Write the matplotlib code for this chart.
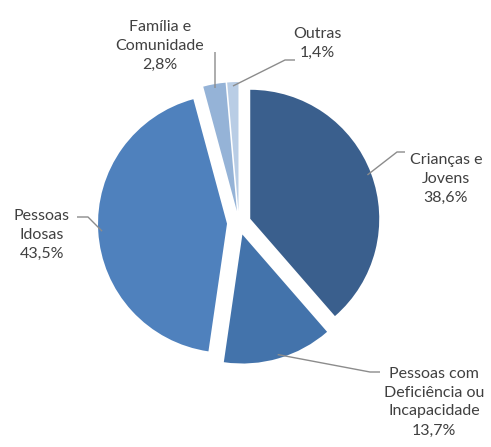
import numpy as np
import matplotlib
matplotlib.use("Agg")
import matplotlib.pyplot as plt

categories = ["Crianças e\nJovens", "Pessoas com\nDeficiência ou\nIncapacidade", "Pessoas\nIdosas",
              "Família e\nComunidade", "Outras"]
values = [38.6, 13.7, 43.5, 2.8, 1.4]
value_labels = ["38,6%", "13,7%", "43,5%", "2,8%", "1,4%"]
colors = ["#3A5F8D", "#4373AB", "#4F81BD", "#95B3D7", "#B9CDE5"]

W, H = 491, 447
fig = plt.figure(figsize=(W / 100, H / 100), dpi=100)
ax = fig.add_axes([0, 0, 1, 1])
ax.set_xlim(0, W)
ax.set_ylim(0, H)
ax.set_aspect("equal")
ax.axis("off")

R = 129
center = (239, H - 223)
explode = [12, 12, 12, 12, 12]
wedges, _ = ax.pie(values, colors=colors, startangle=90, counterclock=False,
                   radius=R, center=center, explode=explode,
                   wedgeprops=dict(linewidth=0), frame=True)
ax.set_xlim(0, W)
ax.set_ylim(0, H)
ax.axis("off")

# label centres (image coords) and leader attach/elbow points (image coords)
label_pos = [(446, 179), (434, 402), (42, 235), (160, 46), (317, 43)]
leader_pts = [
    [(405, 152), (397, 152)],
    [(380, 372), (370, 372)],
    [(77, 217), (88, 217)],
    [(215, 52), (215, 54)],
    [(295, 60), (285, 60)],
]

for w, cat, vl, (lx, ly), pts in zip(wedges, categories, value_labels, label_pos, leader_pts):
    ax.text(lx, H - ly, cat + "\n" + vl, ha="center", va="center", fontsize=11.5,
            color="#404040", family=["Lato", "DejaVu Sans"], linespacing=1.45)
    thm = np.deg2rad(0.5 * (w.theta1 + w.theta2))
    cx, cy = w.center
    ax_ = cx + (w.r * 0.97) * np.cos(thm)
    ay_ = cy + (w.r * 0.97) * np.sin(thm)
    xs = [p[0] for p in pts] + [ax_]
    ys = [H - p[1] for p in pts] + [ay_]
    ax.plot(xs, ys, color="#8C8C8C", lw=1.0, solid_capstyle="butt")

fig.savefig("out.png", dpi=100, facecolor="white")
